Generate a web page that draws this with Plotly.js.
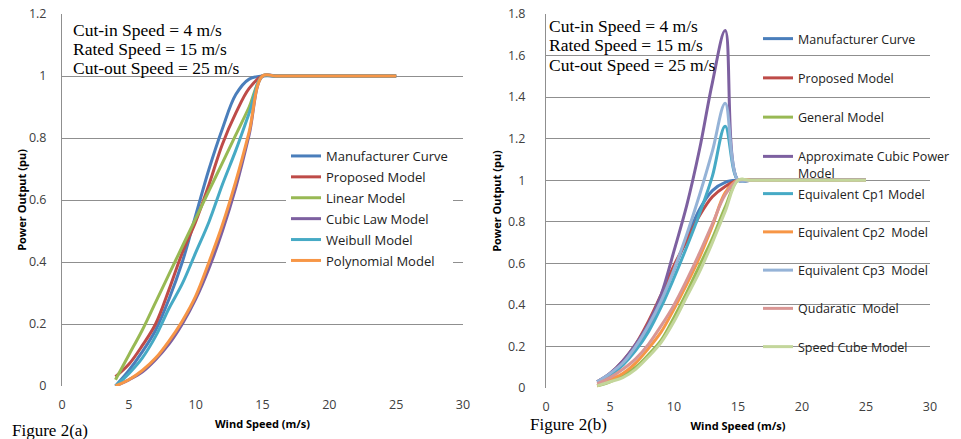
<!DOCTYPE html>
<html>
<head>
<meta charset="utf-8">
<script src="https://cdn.plot.ly/plotly-3.0.1.min.js"></script>
<style>html,body{margin:0;padding:0;background:#fff;}#chart{width:961px;height:439px;}</style>
</head>
<body>
<div id="chart"></div>
<script>
// ---- data ----
const windSpeed = [4,5,6,7,8,9,10,11,12,13,14,15,16,17,18,19,20,21,22,23,24,25];

// Figure 2(a)
const manufacturerA = [0,0.05,0.11,0.18,0.28,0.40,0.55,0.70,0.83,0.94,0.99,1,1,1,1,1,1,1,1,1,1,1];
const proposedA     = [0.03,0.07,0.13,0.20,0.31,0.43,0.53,0.65,0.78,0.88,0.96,1,1,1,1,1,1,1,1,1,1,1];
const linearA       = [0.02,0.10,0.18,0.27,0.36,0.45,0.54,0.63,0.72,0.81,0.90,1,1,1,1,1,1,1,1,1,1,1];
const cubicLawA     = [0,0.02,0.045,0.085,0.135,0.20,0.28,0.38,0.50,0.64,0.81,1,1,1,1,1,1,1,1,1,1,1];
const weibullA      = [0,0.04,0.09,0.16,0.25,0.33,0.43,0.53,0.65,0.76,0.88,1,1,1,1,1,1,1,1,1,1,1];
const polynomialA   = [0,0.02,0.05,0.09,0.145,0.21,0.29,0.40,0.52,0.66,0.82,1,1,1,1,1,1,1,1,1,1,1];

// Figure 2(b)
const manufacturerB = [0.03,0.06,0.12,0.19,0.29,0.42,0.57,0.72,0.86,0.95,0.99,1,1,1,1,1,1,1,1,1,1,1];
const proposedB     = [0.03,0.07,0.13,0.21,0.32,0.45,0.59,0.71,0.83,0.92,0.97,1,1,1,1,1,1,1,1,1,1,1];
const generalB      = [0.01,0.03,0.06,0.10,0.16,0.23,0.34,0.46,0.59,0.72,0.87,1,1,1,1,1,1,1,1,1,1,1];
const approxCubicB  = [0.03,0.07,0.13,0.21,0.31,0.45,0.66,0.88,1.15,1.47,1.72,1,1,1,1,1,1,1,1,1,1,1];
const cp1B          = [0.03,0.06,0.11,0.18,0.27,0.39,0.53,0.68,0.84,1.02,1.26,1,1,1,1,1,1,1,1,1,1,1];
const cp2B          = [0.01,0.04,0.07,0.12,0.19,0.27,0.38,0.50,0.63,0.78,0.94,1,1,1,1,1,1,1,1,1,1,1];
const cp3B          = [0.03,0.07,0.12,0.20,0.30,0.42,0.57,0.74,0.93,1.14,1.37,1,1,1,1,1,1,1,1,1,1,1];
const quadraticB    = [0.02,0.05,0.09,0.14,0.21,0.30,0.40,0.52,0.65,0.79,0.93,1,1,1,1,1,1,1,1,1,1,1];
const speedCubeB    = [0.01,0.03,0.05,0.09,0.15,0.22,0.32,0.44,0.56,0.70,0.85,1,1,1,1,1,1,1,1,1,1,1];

const namesA = ['Manufacturer Curve','Proposed Model','Linear Model','Cubic Law Model','Weibull Model','Polynomial Model'];
const namesB = ['Manufacturer Curve','Proposed Model','General Model','Approximate Cubic Power<br>Model',
                'Equivalent Cp1 Model','Equivalent Cp2  Model','Equivalent Cp3  Model','Qudaratic  Model','Speed Cube Model'];
const xTicks = [0,5,10,15,20,25,30];

// ---- styling ----
const colorsA = ['#4A7EBB','#BE4B48','#98B954','#7D60A0','#46AAC5','#F79646'];
const colorsB = ['#4A7EBB','#BE4B48','#98B954','#7D60A0','#46AAC5','#F79646','#95B3D7','#D99694','#C3D69B'];
const seriesA = [manufacturerA, proposedA, linearA, cubicLawA, weibullA, polynomialA];
const seriesB = [manufacturerB, proposedB, generalB, approxCubicB, cp1B, cp2B, cp3B, quadraticB, speedCubeB];

const traces = [];
seriesA.forEach((ys, i) => {
  traces.push({
    x: windSpeed, y: ys, name: namesA[i], type: 'scatter', mode: 'lines',
    line: {color: colorsA[i], width: 3, shape: 'spline', smoothing: 1},
    xaxis: 'x', yaxis: 'y', legend: 'legend', legendgroup: 'a' + i
  });
});
seriesB.forEach((ys, i) => {
  traces.push({
    x: windSpeed, y: ys, name: namesB[i], type: 'scatter', mode: 'lines',
    line: {color: colorsB[i], width: 3, shape: 'spline', smoothing: 1},
    xaxis: 'x2', yaxis: 'y2', legend: i < 4 ? 'legend2' : 'legend3', legendgroup: 'b' + i
  });
});

const W = 961, H = 439;
const px = v => v / W;
const py = v => 1 - v / H;
const tickFont = {family: 'Open Sans, sans-serif', size: 12.5, color: '#404040'};
const titleFont = {family: 'Open Sans, sans-serif', size: 11, color: '#000', weight: 'bold'};
const serif = {family: 'Liberation Serif, Times New Roman, serif', size: 17.5, color: '#000'};
const gridCol = '#8f8f8f';

function xAxis(domain, anchor) {
  return {
    domain: domain, anchor: anchor, range: [0, 30], tickvals: xTicks, ticktext: xTicks.map(String),
    showgrid: false, zeroline: false, showline: false,
    ticks: 'outside', ticklen: 7, tickcolor: 'rgba(0,0,0,0)', tickfont: tickFont,
    title: {text: 'Wind Speed (m/s)', font: titleFont, standoff: 8}
  };
}
function yAxis(domain, anchor, maxV, tl, so) {
  return {
    domain: domain, anchor: anchor, range: [0, maxV], dtick: 0.2, tick0: 0,
    showgrid: true, gridcolor: gridCol, gridwidth: 1, zeroline: false,
    showline: true, linecolor: gridCol, linewidth: 1,
    ticks: 'outside', ticklen: tl, tickcolor: 'rgba(0,0,0,0)', tickfont: tickFont,
    title: {text: 'Power Output (pu)', font: titleFont, standoff: so}
  };
}

function textAnn(x, y, t, font) {
  return {xref: 'paper', yref: 'paper', x: px(x), y: py(y), xanchor: 'left', yanchor: 'middle',
          text: t, showarrow: false, font: font};
}

const legFontA = {family: 'Open Sans, sans-serif', size: 13, color: '#222'};
const legFontB = {family: 'Open Sans, sans-serif', size: 12.5, color: '#222'};

const layout = {
  width: W, height: H, margin: {l: 0, r: 0, t: 0, b: 0},
  paper_bgcolor: '#fff', plot_bgcolor: '#fff', showlegend: true,
  xaxis: xAxis([px(62), px(463)], 'y'),
  yaxis: yAxis([1 - 386 / H, 1 - 14 / H], 'x', 1.2, 12, 0),
  xaxis2: xAxis([px(546), px(930)], 'y2'),
  yaxis2: yAxis([1 - 388 / H, 1 - 14 / H], 'x2', 1.8, 17, 4),
  legend: {x: px(286), y: py(141), xanchor: 'left', yanchor: 'top', bgcolor: '#fff',
           font: legFontA, tracegroupgap: 1, itemwidth: 30},
  legend2: {x: px(758), y: py(24), xanchor: 'left', yanchor: 'top', bgcolor: 'rgba(0,0,0,0)',
           font: legFontB, tracegroupgap: 20, valign: 'top', itemwidth: 30},
  legend3: {x: px(758), y: py(179), xanchor: 'left', yanchor: 'top', bgcolor: 'rgba(0,0,0,0)',
           font: legFontB, tracegroupgap: 19, itemwidth: 30},
  annotations: [
    textAnn(71, 30.5, 'Cut-in Speed = 4 m/s', serif),
    textAnn(71, 49, 'Rated Speed = 15 m/s', serif),
    textAnn(71, 67.5, 'Cut-out Speed = 25 m/s', serif),
    textAnn(547, 26.5, 'Cut-in Speed = 4 m/s', serif),
    textAnn(547, 45.5, 'Rated Speed = 15 m/s', serif),
    textAnn(547, 64.5, 'Cut-out Speed = 25 m/s', serif),
    textAnn(10, 430, 'Figure 2(a)', {family: serif.family, size: 17, color: '#000'}),
    textAnn(528, 424, 'Figure 2(b)', {family: serif.family, size: 17, color: '#000'})
  ]
};

Plotly.newPlot('chart', traces, layout, {displayModeBar: false, staticPlot: true});
</script>
</body>
</html>
